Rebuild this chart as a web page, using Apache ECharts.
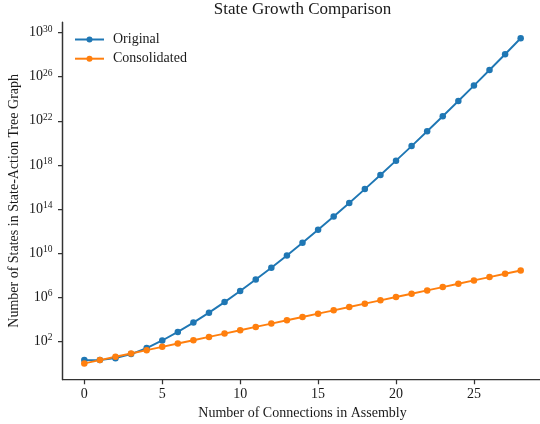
<!DOCTYPE html>
<html>
<head>
<meta charset="utf-8">
<script src="https://cdn.jsdelivr.net/npm/echarts@6/dist/echarts.min.js"></script>
<style>html,body{margin:0;padding:0;background:#fff}#c{width:540px;height:424px;background:#fff}</style>
</head>
<body>
<div id="c"></div>
<script>
// Data
const connections = [0,1,2,3,4,5,6,7,8,9,10,11,12,13,14,15,16,17,18,19,20,21,22,23,24,25,26,27,28];
const original = [2, 2, 3, 7, 25, 121, 721, 5041, 40321, 362881, 3.63e6, 3.99e7, 4.79e8, 6.23e9, 8.72e10,
  1.31e12, 2.09e13, 3.56e14, 6.40e15, 1.22e17, 2.43e18, 5.11e19, 1.12e21, 2.59e22, 6.20e23,
  1.55e25, 4.03e26, 1.09e28, 3.05e29];
const consolidated = [1, 2, 4, 8, 16, 32, 64, 128, 256, 512, 1024, 2048, 4096, 8192, 16384, 32768,
  65536, 131072, 262144, 524288, 1048576, 2097152, 4194304, 8388608, 16777216, 33554432,
  67108864, 134217728, 268435456];
const xTicks = [0, 5, 10, 15, 20, 25];
const yTicks = [1e2, 1e6, 1e10, 1e14, 1e18, 1e22, 1e26, 1e30];
const seriesNames = ['Original', 'Consolidated'];
const titleText = 'State Growth Comparison';
const xName = 'Number of Connections in Assembly';
const yName = 'Number of States in State-Action Tree Graph';
const xMin = -1.4, xMax = 29.4;

const FONT = 'Liberation Serif';
const TXT = '#1a1a1a';
const AX = '#333333';

const chart = echarts.init(document.getElementById('c'));
const pairs = arr => connections.map((x, i) => [x, arr[i]]);

chart.setOption({
  animation: false,
  title: {
    text: titleText, left: 302.5, textAlign: 'center', top: 0, padding: [1, 0, 0, 0],
    textStyle: {fontFamily: FONT, fontSize: 17, fontWeight: 'normal', color: TXT}
  },
  legend: {
    orient: 'vertical', left: 74, top: 32.5, padding: 0,
    itemWidth: 29, itemHeight: 7.5, itemGap: 5.2,
    textStyle: {fontFamily: FONT, fontSize: 14, color: TXT, padding: [0, 0, 0, 4]},
    data: seriesNames
  },
  grid: {left: 62.5, top: 22, width: 480, height: 357.7, outerBoundsMode: 'none'},
  xAxis: {
    type: 'value', min: xMin, max: xMax,
    name: xName, nameLocation: 'middle', nameGap: 27,
    nameTextStyle: {fontFamily: FONT, fontSize: 14, color: TXT},
    axisLine: {onZero: false, lineStyle: {color: AX, width: 1.25}},
    axisTick: {length: 4.5, lineStyle: {color: AX, width: 1.25}, customValues: xTicks},
    axisLabel: {fontFamily: FONT, fontSize: 14, color: TXT, margin: 8, customValues: xTicks},
    splitLine: {show: false}
  },
  yAxis: {
    type: 'log', min: Math.pow(10, -1.474), max: Math.pow(10, 30.958), position: 'left',
    name: yName, nameLocation: 'middle', nameGap: 41.5, nameRotate: 90, nameMoveOverlap: false,
    nameTextStyle: {fontFamily: FONT, fontSize: 14, color: TXT},
    axisLine: {show: true, onZero: false, lineStyle: {color: AX, width: 1.25}},
    axisTick: {show: true, length: 4.5, lineStyle: {color: AX, width: 1.25}, customValues: yTicks},
    axisLabel: {
      margin: 10, customValues: yTicks,
      formatter: v => '{b|10}{s|' + Math.round(Math.log10(v)) + '}',
      rich: {
        b: {fontFamily: FONT, fontSize: 14, color: TXT},
        s: {fontFamily: FONT, fontSize: 9.5, color: TXT, padding: [0, 0, 7, 0]}
      }
    },
    splitLine: {show: false}
  },
  series: [
    {
      name: seriesNames[0], type: 'line', data: pairs(original),
      symbol: 'circle', symbolSize: 6.5, showSymbol: true,
      lineStyle: {color: '#1f77b4', width: 1.9}, itemStyle: {color: '#1f77b4'},
      markLine: {
        silent: true, symbol: ['none', 'none'], animation: false,
        label: {show: false}, emphasis: {disabled: true},
        lineStyle: {color: AX, width: 1.25, type: 'solid'},
        data: [{xAxis: xMin}]
      }
    },
    {
      name: seriesNames[1], type: 'line', data: pairs(consolidated),
      symbol: 'circle', symbolSize: 6.5, showSymbol: true,
      lineStyle: {color: '#ff7f0e', width: 1.9}, itemStyle: {color: '#ff7f0e'}
    }
  ]
});
</script>
</body>
</html>
